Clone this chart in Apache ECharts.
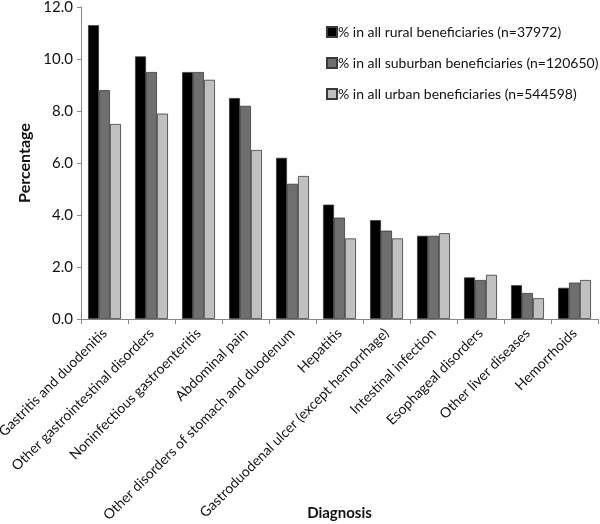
<!DOCTYPE html>
<html>
<head>
<meta charset="utf-8">
<script src="https://cdn.jsdelivr.net/npm/echarts@6/dist/echarts.min.js"></script>
<style>
  html, body { margin: 0; padding: 0; background: #fff; }
  #chart { width: 600px; height: 524px; }
</style>
</head>
<body>
<div id="chart"></div>
<script>
// diagnosis categories
var categories = ['Gastritis and duodenitis', 'Other gastrointestinal disorders',
    'Noninfectious gastroenteritis', 'Abdominal pain', 'Other disorders of stomach and duodenum',
    'Hepatitis', 'Gastroduodenal ulcer (except hemorrhage)', 'Intestinal infection',
    'Esophageal disorders', 'Other liver diseases', 'Hemorrhoids'];

var seriesNames = ['% in all rural beneficiaries (n=37972)',
    '% in all suburban beneficiaries (n=120650)',
    '% in all urban beneficiaries (n=544598)'];

var rural = [11.3, 10.1, 9.5, 8.5, 6.2, 4.4, 3.8, 3.2, 1.6, 1.3, 1.2];
var suburban = [8.8, 9.5, 9.5, 8.2, 5.2, 3.9, 3.4, 3.2, 1.5, 1.0, 1.4];
var urban = [7.5, 7.9, 9.2, 6.5, 5.5, 3.1, 3.1, 3.3, 1.7, 0.8, 1.5];

var colors = ['#000000', '#6f6f6f', '#c0c0c0'];
var font = 'Lato';

var chart = echarts.init(document.getElementById('chart'));

function bar(name, data) {
    return {
        name: name,
        type: 'bar',
        data: data,
        barGap: '0%',
        barCategoryGap: '30%',
        itemStyle: { borderColor: '#3a3a3a', borderWidth: 0.8 }
    };
}

chart.setOption({
    animation: false,
    color: colors,
    textStyle: { fontFamily: font },
    grid: { left: 81, right: 2, top: 7, bottom: 205, containLabel: false, outerBoundsMode: 'none' },
    legend: {
        orient: 'vertical',
        left: 321,
        top: 20,
        itemWidth: 10,
        itemHeight: 10,
        itemGap: 17,
        icon: 'rect',
        textStyle: { fontFamily: font, fontSize: 14, color: '#111', padding: [0, 0, 0, -4] },
        data: seriesNames
    },
    xAxis: {
        type: 'category',
        data: categories,
        name: 'Diagnosis',
        nameLocation: 'middle',
        nameGap: 187,
        nameMoveOverlap: false,
        nameTextStyle: { fontFamily: font, fontSize: 15, fontWeight: 'bold', color: '#111' },
        axisLine: { lineStyle: { color: '#888', width: 1 } },
        axisTick: { show: true, length: 5, lineStyle: { color: '#888' } },
        axisLabel: { interval: 0, rotate: 45, fontSize: 14, color: '#111', margin: 12, hideOverlap: false }
    },
    yAxis: {
        type: 'value',
        min: 0,
        max: 12,
        interval: 2,
        name: 'Percentage',
        nameLocation: 'middle',
        nameGap: 43,
        nameTextStyle: { fontFamily: font, fontSize: 16, fontWeight: 'bold', color: '#111' },
        axisLine: { show: true, lineStyle: { color: '#888', width: 1 } },
        axisTick: { show: true, length: 4, lineStyle: { color: '#888' } },
        splitLine: { show: false },
        axisLabel: {
            fontSize: 15, color: '#111', margin: 8,
            formatter: function (v) { return v.toFixed(1); }
        }
    },
    series: [bar(seriesNames[0], rural), bar(seriesNames[1], suburban), bar(seriesNames[2], urban)]
});
</script>
</body>
</html>
